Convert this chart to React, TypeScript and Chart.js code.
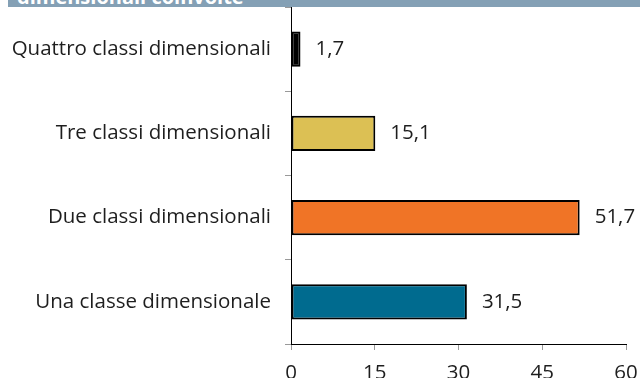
import React, { useEffect, useRef } from "react";
import { Chart, registerables } from "chart.js";

Chart.register(...registerables);

const categories = [
  "Quattro classi dimensionali",
  "Tre classi dimensionali",
  "Due classi dimensionali",
  "Una classe dimensionale",
];
const values = [1.7, 15.1, 51.7, 31.5];
const barColors = ["#000000", "#dcc054", "#f07426", "#006b8f"];
const xTicks = [0, 15, 30, 45, 60];
const headerText = "dimensionali coinvolte";

const FONT = "'Open Sans', 'Noto Sans', sans-serif";
const FS = 20.5;

const valueLabels = {
  id: "valueLabels",
  afterDatasetsDraw(chart: any) {
    const ctx = chart.ctx;
    const meta = chart.getDatasetMeta(0);
    ctx.save();
    ctx.font = `${FS}px ${FONT}`;
    ctx.fillStyle = "#1e1e1e";
    ctx.textAlign = "left";
    ctx.textBaseline = "middle";
    meta.data.forEach((bar: any, i: number) => {
      const v = values[i];
      ctx.fillText(v.toFixed(1).replace(".", ","), bar.x + 15, bar.y);
    });
    ctx.restore();
  },
};

export default function App() {
  const ref = useRef<HTMLCanvasElement | null>(null);
  useEffect(() => {
    if (!ref.current) return;
    const chart = new Chart(ref.current, {
      type: "bar",
      data: {
        labels: categories,
        datasets: [
          {
            data: values,
            backgroundColor: barColors,
            borderColor: "#000000",
            borderWidth: 2,
            borderSkipped: false,
            barPercentage: 0.42,
            categoryPercentage: 1,
          },
        ],
      },
      options: {
        indexAxis: "y",
        animation: false,
        responsive: false,
        maintainAspectRatio: false,
        layout: { padding: { top: 7, right: 0, left: 0, bottom: 0 } },
        plugins: {
          legend: { display: false },
          tooltip: { enabled: false },
        },
        scales: {
          x: {
            min: 0,
            max: 60,
            afterBuildTicks: (scale: any) => {
              scale.ticks = xTicks.map((v) => ({ value: v }));
            },
            afterFit: (scale: any) => {
              scale.height = 34;
              scale.paddingRight = 14;
              scale.paddingLeft = 0;
            },
            grid: {
              drawOnChartArea: false,
              drawTicks: true,
              tickLength: 6,
              color: "#999999",
            },
            border: { display: true, color: "#000000", width: 1 },
            ticks: {
              color: "#1e1e1e",
              font: { family: FONT, size: FS },
              padding: 11,
              maxRotation: 0,
            },
          },
          y: {
            afterFit: (scale: any) => {
              scale.width = 291;
              scale.paddingTop = 0;
              scale.paddingBottom = 0;
            },
            grid: {
              drawOnChartArea: false,
              drawTicks: true,
              tickLength: 6,
              color: "#999999",
              offset: true,
            },
            border: { display: true, color: "#000000", width: 1 },
            ticks: {
              color: "#1e1e1e",
              font: { family: FONT, size: FS },
              padding: 14,
            },
          },
        },
      },
      plugins: [valueLabels],
    });
    return () => chart.destroy();
  }, []);

  return (
    <div style={{ position: "absolute", left: 0, top: 0, width: 640, height: 378, background: "#ffffff", overflow: "hidden" }}>
      <canvas ref={ref} width={640} height={378} style={{ position: "absolute", left: 0, top: 0, width: 640, height: 378 }} />
      <div
        style={{
          position: "absolute",
          left: 8,
          top: 0,
          width: 632,
          height: 7,
          background: "#84a0b5",
          overflow: "hidden",
        }}
      >
        <div
          style={{
            position: "absolute",
            left: 9,
            top: -13,
            lineHeight: "20px",
            fontSize: 20,
            fontWeight: 700,
            fontFamily: FONT,
            color: "#ffffff",
            whiteSpace: "nowrap",
          }}
        >
          {headerText}
        </div>
      </div>
    </div>
  );
}
